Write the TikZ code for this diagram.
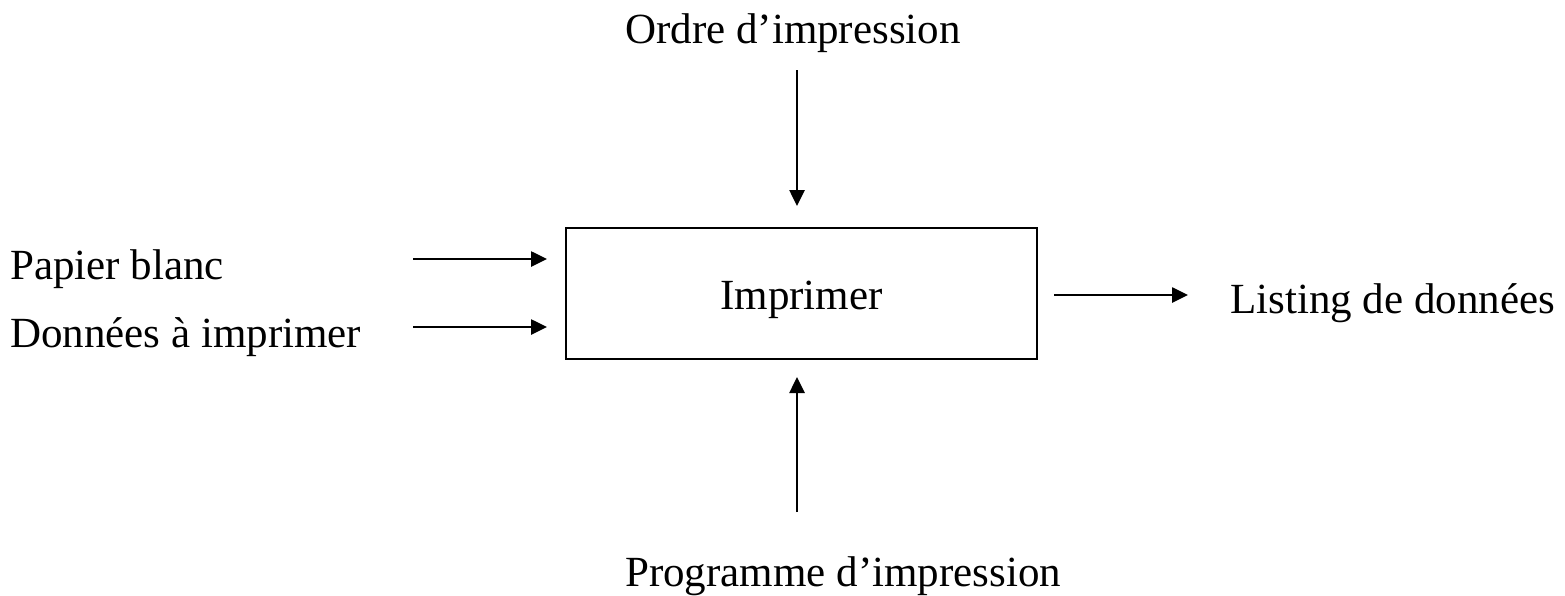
\documentclass[tikz,border=0pt]{standalone}
\usepackage{fontspec}
\setmainfont{Liberation Serif}
\usepackage{tikz}
\usetikzlibrary{arrows.meta,positioning,calc}
\tikzset{>={Triangle[length=16pt,width=15pt]},
    txt/.style={font=\fontsize{43}{50}\selectfont, inner sep=0pt},
    flow/.style={->, line width=2.6pt}}

\begin{document}
\begin{tikzpicture}[x=1pt, y=-1pt,
      process/.style={draw, line width=2pt, minimum width=471pt, minimum height=131pt, inner sep=0pt, text height=38pt, text depth=5pt, font=\fontsize{43}{50}\selectfont}]
  \useasboundingbox (0,0) rectangle (1565,595);
  \node[process] (imprimer) at (801.5,293) {Imprimer};
  % Inputs
  \node[txt, anchor=base west] (papier) at (10,279) {Papier blanc};
  \node[txt, anchor=base west] (donnees) at (10,347) {Données à imprimer};
  \coordinate (papierIn) at (413,259);
  \coordinate (donneesIn) at (413,327);
  \draw[flow, shorten >=18pt] (papierIn) -- (papierIn -| imprimer.west);
  \draw[flow, shorten >=18pt] (donneesIn) -- (donneesIn -| imprimer.west);
  % Control and mechanism
  \node[txt, anchor=base west] (ordre) at (625,43) {Ordre d'impression};
  \node[txt, anchor=base west] (programme) at (625,586) {Programme d'impression};
  \coordinate (ordreIn) at (797,70);
  \coordinate (programmeIn) at (797,512);
  \draw[flow, shorten >=20.5pt] (ordreIn) -- (ordreIn |- imprimer.north);
  \draw[flow, shorten >=17.5pt] (programmeIn) -- (programmeIn |- imprimer.south);
  % Output
  \node[txt, anchor=base west] (listing) at (1230,313) {Listing de données};
  \coordinate (listingOut) at (1188,295);
  \draw[flow, shorten <=16pt] (listingOut -| imprimer.east) -- (listingOut);
\end{tikzpicture}
\end{document}
